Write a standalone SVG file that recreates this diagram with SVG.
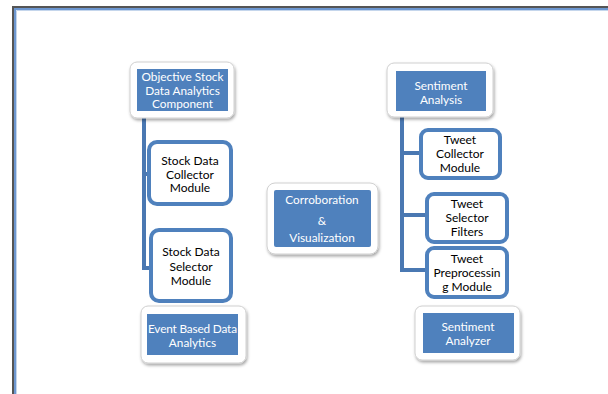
<svg xmlns="http://www.w3.org/2000/svg" width="608" height="394" viewBox="0 0 608 394">
<style>
.card{fill:#fff;stroke:#d0d0d0;stroke-width:1;filter:url(#sh)}
.blue{fill:#4f81bd}
.wt{fill:#fff;font-family:Lato,"Open Sans",sans-serif;font-size:11.8px;text-anchor:middle}
.bt{fill:#000;font-family:Lato,"Open Sans",sans-serif;font-size:12px;text-anchor:middle}
.box{fill:#fff;stroke:#4f81bd;stroke-width:4}
.conn{fill:none;stroke:#4a78b2;stroke-width:4}
</style>
<defs>
<filter id="sh" x="-10%" y="-10%" width="125%" height="130%">
<feDropShadow dx="1" dy="2" stdDeviation="1.5" flood-color="#000" flood-opacity="0.35"/>
</filter>
</defs>
<rect width="608" height="394" fill="#fff"/>
<g id="frame">
<path d="M13,394 V7 H608" fill="none" stroke="#555" stroke-width="2"/>
<path d="M15,394 V9 H608" fill="none" stroke="#6d97d0" stroke-width="2"/>
<path d="M16.5,394 V10.5 H608" fill="none" stroke="#c5d6ec" stroke-width="1"/>
</g>
<g id="connectors">
<path class="conn" d="M144,118 V268 H152 M144,174 H150"/>
<path class="conn" d="M402,117 V270 H428 M402,153 H422 M402,215 H428"/>
</g>
<g id="objective">
<rect class="card" x="130" y="62" width="104" height="56" rx="7"/>
<rect class="blue" x="137" y="69" width="91" height="42"/>
<text class="wt" x="182.5" y="81" textLength="82" lengthAdjust="spacing">Objective Stock</text>
<text class="wt" x="182.5" y="94.5">Data Analytics</text>
<text class="wt" x="182.5" y="108">Component</text>
</g>
<g id="collector">
<rect class="box" x="149" y="142" width="82" height="62" rx="8"/>
<text class="bt" x="190" y="165">Stock Data</text>
<text class="bt" x="190" y="178.5">Collector</text>
<text class="bt" x="190" y="192">Module</text>
</g>
<g id="selector">
<rect class="box" x="151" y="230" width="80" height="71" rx="8"/>
<text class="bt" x="191" y="256">Stock Data</text>
<text class="bt" x="191" y="271">Selector</text>
<text class="bt" x="191" y="285">Module</text>
</g>
<g id="event">
<rect class="card" x="141" y="306" width="105" height="57" rx="7"/>
<rect class="blue" x="147" y="314" width="91" height="41"/>
<text class="wt" x="192.5" y="333" textLength="89" lengthAdjust="spacing">Event Based Data</text>
<text class="wt" x="192.5" y="347">Analytics</text>
</g>
<g id="corroboration">
<rect class="card" x="267" y="183" width="111" height="71" rx="8"/>
<rect class="blue" x="274" y="190" width="97" height="57" rx="2"/>
<text class="wt" x="322" y="204" font-size="10.5">Corroboration</text>
<text class="wt" x="322" y="225" font-size="10.5">&amp;</text>
<text class="wt" x="322" y="242" font-size="10.5">Visualization</text>
</g>
<g id="sentiment-analysis">
<rect class="card" x="387" y="63" width="106" height="54" rx="7"/>
<rect class="blue" x="396" y="71" width="90" height="40"/>
<text class="wt" x="441" y="90">Sentiment</text>
<text class="wt" x="441" y="104">Analysis</text>
</g>
<g id="tweet-collector">
<rect class="box" x="421" y="130" width="79" height="48" rx="7"/>
<text class="bt" x="460" y="144">Tweet</text>
<text class="bt" x="460" y="158">Collector</text>
<text class="bt" x="460" y="172">Module</text>
</g>
<g id="tweet-selector">
<rect class="box" x="427" y="194" width="80" height="48" rx="7"/>
<text class="bt" x="467" y="208">Tweet</text>
<text class="bt" x="467" y="222">Selector</text>
<text class="bt" x="467" y="236">Filters</text>
</g>
<g id="tweet-preprocessing">
<rect class="box" x="427" y="248" width="80" height="49" rx="7"/>
<text class="bt" x="467" y="263">Tweet</text>
<text class="bt" x="467" y="277">Preprocessin</text>
<text class="bt" x="467" y="291">g Module</text>
</g>
<g id="sentiment-analyzer">
<rect class="card" x="415" y="306" width="105" height="54" rx="7"/>
<rect class="blue" x="423" y="313" width="91" height="40"/>
<text class="wt" x="468" y="331">Sentiment</text>
<text class="wt" x="468" y="345">Analyzer</text>
</g>
</svg>
